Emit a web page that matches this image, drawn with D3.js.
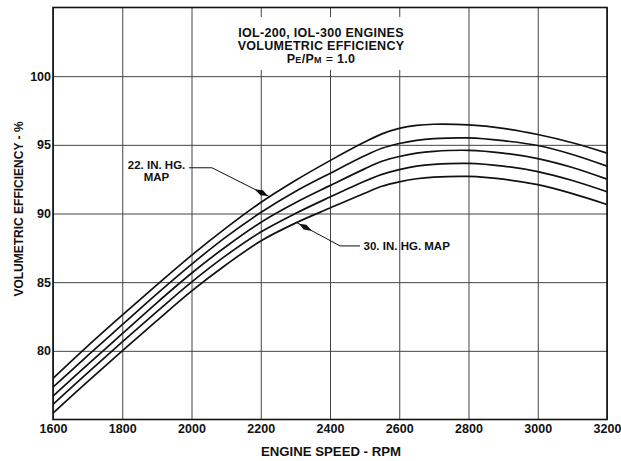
<!DOCTYPE html>
<html><head><meta charset="utf-8">
<script src="https://cdn.jsdelivr.net/npm/d3@7"></script>
<style>
body{margin:0;background:#fff;}
text{font-family:"Liberation Sans",Arial,Helvetica,sans-serif;font-weight:bold;fill:#111;}
</style></head>
<body><svg id="c" width="621" height="461"></svg>
<script>
// ---- data ----
const rpm = [1600,1700,1800,1900,2000,2100,2200,2300,2400,2500,2550,2600,2650,2700,2800,2900,3000,3100,3200];
const map22 = [78.0,80.35,82.6,84.8,86.95,88.95,90.8,92.4,93.85,95.2,95.8,96.2,96.42,96.5,96.45,96.2,95.75,95.15,94.4];
const map24 = [77.35,79.65,81.9,84.15,86.3,88.3,90.07,91.6,92.92,94.2,94.75,95.1,95.33,95.45,95.5,95.3,94.95,94.3,93.45];
const map26 = [76.7,79.0,81.25,83.5,85.65,87.6,89.35,90.78,92.03,93.25,93.8,94.15,94.4,94.53,94.6,94.4,94.0,93.35,92.5];
const map28 = [76.1,78.4,80.65,82.85,85.0,86.95,88.65,90.0,91.2,92.35,92.85,93.2,93.45,93.58,93.65,93.45,93.05,92.4,91.58];
const map30 = [75.47,77.75,80.0,82.2,84.35,86.27,88.0,89.3,90.4,91.48,91.98,92.3,92.53,92.65,92.7,92.5,92.1,91.45,90.66];
const seriesList = [map22,map24,map26,map28,map30];
const xTicks = [1600,1800,2000,2200,2400,2600,2800,3000,3200];
const yTicks = [80,85,90,95,100];
const titleLines = ["IOL-200, IOL-300 ENGINES","VOLUMETRIC EFFICIENCY"];
const xTitle = "ENGINE SPEED - RPM";
const yTitle = "VOLUMETRIC EFFICIENCY - %";
// annotation anchors in data units [rpm, %]
const note22Text = ["22. IN. HG.","MAP"];
const note22Path = [[1993,93.33],[2059,93.33],[2226,91.21]];
const note30Text = "30. IN. HG. MAP";
const note30Path = [[2487,87.64],[2429,87.64],[2305,89.32]];

// ---- drawing ----
const svg = d3.select("#c");
const L=53,R=607,T=7.5,B=419.5;
const x = d3.scaleLinear().domain([1600,3200]).range([L,R]);
const y = d3.scaleLinear().domain([75,105]).range([B,T]);

const gx = svg.append("g").attr("transform",`translate(0,${B})`)
  .call(d3.axisBottom(x).tickValues(xTicks).tickSize(-(B-T)).tickPadding(5).tickFormat(d3.format("d")));
gx.select(".domain").remove();
gx.selectAll("line").attr("stroke","#444").attr("stroke-width",1);
gx.selectAll("text").attr("font-size",12.5).attr("fill","#111");

const gy = svg.append("g").attr("transform",`translate(${L},0)`)
  .call(d3.axisLeft(y).tickValues(yTicks).tickSize(-(R-L)).tickPadding(2));
gy.select(".domain").remove();
gy.selectAll("line").attr("stroke","#444").attr("stroke-width",1);
gy.selectAll("text").attr("font-size",12.5).attr("fill","#111");

// title background
svg.append("rect").attr("x",228).attr("y",17).attr("width",188).attr("height",53).attr("fill","#fff");

// frame
svg.append("rect").attr("x",L).attr("y",T).attr("width",R-L).attr("height",B-T)
  .attr("fill","none").attr("stroke","#111").attr("stroke-width",1.6);

// curves
const line = d3.line().x((d,i)=>x(rpm[i])).y(d=>y(d)).curve(d3.curveCatmullRom.alpha(0.5));
svg.append("g").selectAll("path").data(seriesList).join("path")
  .attr("d",line).attr("fill","none").attr("stroke","#111").attr("stroke-width",1.7);

// title
const tg = svg.append("g").attr("text-anchor","middle").attr("letter-spacing",0.3);
tg.selectAll("text.t").data(titleLines).join("text").attr("class","t")
  .attr("x",321).attr("y",(d,i)=>36.5+i*13.5).attr("font-size",12.5).text(d=>d);
const t3 = tg.append("text").attr("x",321).attr("y",63).attr("font-size",12.5);
t3.append("tspan").text("P");
t3.append("tspan").attr("font-size",9).text("E");
t3.append("tspan").text("/P");
t3.append("tspan").attr("font-size",9).text("M");
t3.append("tspan").attr("font-weight","normal").text(" = ");
t3.append("tspan").text("1.0");

// axis titles
svg.append("text").attr("x",331).attr("y",456).attr("text-anchor","middle").attr("font-size",13.2).text(xTitle);
svg.append("text").attr("transform","translate(23,209) rotate(-90)").attr("text-anchor","middle").attr("font-size",12).text(yTitle);

// annotations
function leader(pts){
  const p = pts.map(d=>[x(d[0]),y(d[1])]);
  svg.append("path").attr("d",d3.line()(p)).attr("fill","none").attr("stroke","#111").attr("stroke-width",1);
  const tip=p[p.length-1], prev=p[p.length-2];
  const dx=tip[0]-prev[0], dy=tip[1]-prev[1], len=Math.hypot(dx,dy);
  const ux=dx/len, uy=dy/len, nx=-uy, ny=ux;
  const back=17, mid=9, w=2.8;
  const a=[tip[0]-ux*2,tip[1]-uy*2];
  const b=[tip[0]-ux*mid+nx*w,tip[1]-uy*mid+ny*w];
  const c=[tip[0]-ux*back,tip[1]-uy*back];
  const e=[tip[0]-ux*mid-nx*w,tip[1]-uy*mid-ny*w];
  svg.append("path").attr("d",`M${a}L${b}L${c}L${e}Z`).attr("fill","#111");
}
leader(note22Path);
leader(note30Path);
svg.append("g").attr("text-anchor","middle").selectAll("text").data(note22Text).join("text")
  .attr("x",x(1899)).attr("y",(d,i)=>y(93.26)+i*12.5).attr("font-size",11.5).text(d=>d);
svg.append("text").attr("x",x(2497)).attr("y",y(87.64)+4.5).attr("font-size",11.5).text(note30Text);
</script></body></html>
